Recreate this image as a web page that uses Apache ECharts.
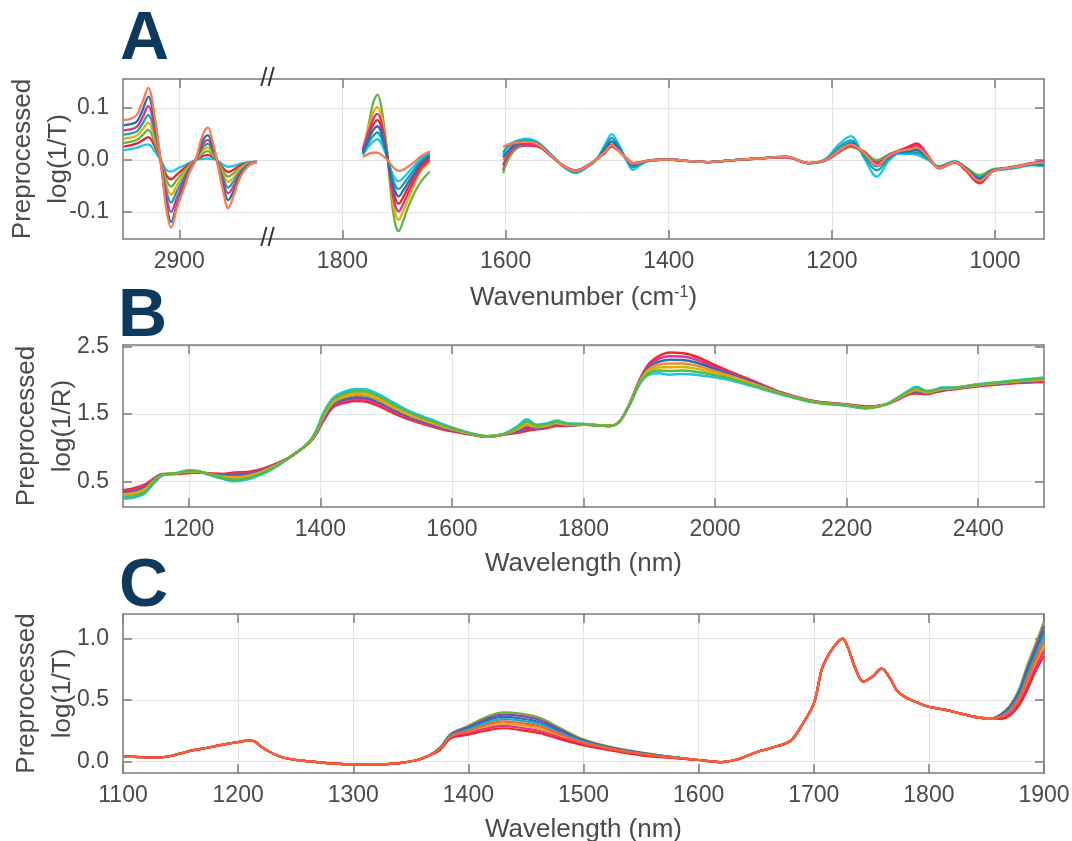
<!DOCTYPE html>
<html><head><meta charset="utf-8">
<script src="https://cdn.jsdelivr.net/npm/echarts@6/dist/echarts.min.js"></script>
<style>html,body{margin:0;padding:0;background:#fff}#c{width:1072px;height:841px}</style>
</head><body><div id="c"></div>
<script>
// ---------------- Panel A: MIR, wavenumber (cm-1), three measured windows ----------------
const aWnCH = [2968,2960,2952,2945,2938,2931,2923,2916,2910,2903,2895,2888,2880,2872,2865,2859,2854,2847,2840,2833,2825,2815,2805];
const aWnCO = [1775,1768,1762,1757,1752,1746,1740,1735,1731,1726,1720,1712,1704,1693];
const aWnFP = [1603,1597,1588,1575,1560,1545,1530,1514,1500,1488,1478,1470,1462,1452,1444,1435,1425,1400,1375,1350,1320,1290,1256,1228,1208,1192,1177,1160,1145,1130,1118,1106,1096,1082,1069,1049,1036,1019,1003,987,970,955,940];

const aCH_coral   = [0.077,0.079,0.087,0.112,0.139,0.093,0,-0.093,-0.130,-0.093,-0.058,-0.026,0,0.045,0.063,0.035,0,-0.054,-0.093,-0.067,-0.032,-0.011,-0.004];
const aCH_blue    = [0.067,0.069,0.074,0.096,0.122,0.083,0,-0.083,-0.119,-0.087,-0.051,-0.022,0,0.035,0.048,0.026,0,-0.045,-0.077,-0.058,-0.029,-0.010,-0.004];
const aCH_magenta = [0.057,0.059,0.064,0.082,0.104,0.070,0,-0.070,-0.100,-0.073,-0.043,-0.019,0,0.028,0.039,0.021,0,-0.038,-0.064,-0.049,-0.025,-0.009,-0.004];
const aCH_teal    = [0.049,0.051,0.055,0.070,0.087,0.059,0,-0.059,-0.082,-0.060,-0.036,-0.016,0,0.022,0.031,0.017,0,-0.031,-0.053,-0.040,-0.021,-0.008,-0.003];
const aCH_gold    = [0.041,0.043,0.047,0.059,0.072,0.048,0,-0.048,-0.067,-0.049,-0.029,-0.013,0,0.017,0.024,0.013,0,-0.025,-0.042,-0.033,-0.017,-0.007,-0.003];
const aCH_green   = [0.033,0.035,0.039,0.048,0.058,0.038,0,-0.038,-0.051,-0.038,-0.023,-0.011,0,0.012,0.017,0.009,0,-0.019,-0.032,-0.025,-0.014,-0.006,-0.003];
const aCH_red     = [0.026,0.028,0.032,0.038,0.044,0.029,0,-0.029,-0.037,-0.028,-0.017,-0.008,0,0.007,0.010,0.006,0,-0.014,-0.023,-0.018,-0.010,-0.005,-0.003];
const aCH_cyan    = [0.019,0.021,0.024,0.028,0.030,0.019,0,-0.019,-0.022,-0.017,-0.011,-0.006,0,0.002,0.003,0.002,0,-0.008,-0.013,-0.011,-0.007,-0.004,-0.003];

const aCO_coral   = [0.006,0.012,0.014,0.014,0.010,0.002,-0.010,-0.018,-0.021,-0.019,-0.013,-0.004,0.007,0.017];
const aCO_blue    = [0.014,0.040,0.058,0.065,0.051,0.014,-0.036,-0.062,-0.070,-0.060,-0.045,-0.025,-0.007,0.008];
const aCO_magenta = [0.020,0.054,0.080,0.089,0.071,0.020,-0.052,-0.089,-0.099,-0.086,-0.066,-0.040,-0.017,0.000];
const aCO_teal    = [0.012,0.033,0.047,0.053,0.041,0.011,-0.028,-0.050,-0.056,-0.048,-0.035,-0.018,-0.002,0.011];
const aCO_gold    = [0.022,0.062,0.092,0.102,0.082,0.024,-0.062,-0.104,-0.115,-0.100,-0.078,-0.048,-0.022,-0.004];
const aCO_green   = [0.012,0.067,0.112,0.126,0.099,0.029,-0.074,-0.125,-0.137,-0.119,-0.093,-0.064,-0.042,-0.022];
const aCO_red     = [0.017,0.047,0.069,0.077,0.061,0.017,-0.044,-0.075,-0.084,-0.073,-0.055,-0.032,-0.012,0.004];
const aCO_cyan    = [0.010,0.026,0.036,0.040,0.031,0.008,-0.021,-0.037,-0.041,-0.035,-0.025,-0.011,0.003,0.014];

const aFP_coral   = [0.025,0.030,0.033,0.035,0.030,0.010,-0.010,-0.021,-0.012,0.002, 0.016,0.028,0.019,0.003,-0.007,-0.005,-0.001,0.001,-0.002,-0.004, 0.000,0.003,0.006,-0.006,0.000,0.017,0.030,0.013,-0.010,0.008, 0.017,0.020,0.024,0.006,-0.015,-0.004,-0.017,-0.040,-0.021,-0.016, -0.012,-0.007,-0.005];
const aFP_blue    = [0.005,0.018,0.030,0.034,0.030,0.010,-0.010,-0.021,-0.012,0.002, 0.020,0.036,0.024,0.002,-0.010,-0.006,-0.001,0.001,-0.002,-0.004, 0.000,0.003,0.006,-0.006,0.000,0.018,0.033,0.012,-0.012,0.006, 0.016,0.017,0.020,0.004,-0.014,-0.004,-0.016,-0.036,-0.020,-0.016, -0.012,-0.008,-0.008];
const aFP_magenta = [-0.010,0.010,0.025,0.030,0.028,0.009,-0.010,-0.020,-0.011,0.002, 0.016,0.029,0.020,0.003,-0.007,-0.005,-0.001,0.001,-0.002,-0.004, 0.000,0.003,0.005,-0.006,0.000,0.016,0.028,0.014,-0.006,0.009, 0.018,0.023,0.028,0.007,-0.015,-0.004,-0.018,-0.041,-0.021,-0.016, -0.011,-0.006,-0.002];
const aFP_teal    = [0.015,0.026,0.034,0.038,0.032,0.011,-0.011,-0.023,-0.013,0.002, 0.026,0.042,0.028,0.001,-0.014,-0.008,-0.002,0.001,-0.002,-0.004, 0.000,0.003,0.006,-0.006,0.001,0.024,0.038,0.006,-0.020,0.003, 0.014,0.014,0.014,0.002,-0.013,-0.003,-0.015,-0.034,-0.020,-0.017, -0.013,-0.009,-0.010];
const aFP_gold    = [0.000,0.015,0.028,0.032,0.029,0.010,-0.010,-0.021,-0.012,0.002, 0.019,0.033,0.022,0.003,-0.009,-0.005,-0.001,0.001,-0.002,-0.004, 0.000,0.003,0.006,-0.006,0.000,0.017,0.030,0.013,-0.008,0.008, 0.017,0.019,0.022,0.005,-0.015,-0.004,-0.017,-0.038,-0.020,-0.016, -0.011,-0.007,-0.006];
const aFP_green   = [-0.025,0.000,0.020,0.030,0.028,0.010,-0.010,-0.022,-0.013,0.002, 0.018,0.031,0.021,0.003,-0.008,-0.005,-0.001,0.001,-0.002,-0.004, 0.000,0.003,0.006,-0.006,0.000,0.015,0.025,0.014,0.000,0.011, 0.017,0.017,0.018,0.005,-0.013,-0.003,-0.014,-0.029,-0.018,-0.015, -0.011,-0.007,-0.006];
const aFP_red     = [-0.020,0.005,0.022,0.028,0.026,0.008,-0.010,-0.020,-0.011,0.002, 0.014,0.026,0.018,0.004,-0.006,-0.004,-0.001,0.001,-0.002,-0.004, 0.000,0.003,0.005,-0.006,-0.001,0.014,0.026,0.016,-0.004,0.010, 0.018,0.026,0.032,0.008,-0.016,-0.005,-0.020,-0.045,-0.022,-0.016, -0.011,-0.006,-0.004];
const aFP_cyan    = [0.010,0.028,0.036,0.041,0.034,0.012,-0.012,-0.025,-0.014,0.002, 0.030,0.050,0.032,0.000,-0.019,-0.010,-0.002,0.001,-0.002,-0.004, 0.000,0.003,0.007,-0.007,0.002,0.029,0.046,0.002,-0.032,-0.001, 0.012,0.012,0.010,0.000,-0.012,-0.002,-0.014,-0.032,-0.020,-0.018, -0.014,-0.010,-0.012];

const aTickLabels = [2900,1800,1600,1400,1200,1000];
const aYTicks = [-0.1,0,0.1];

// ---------------- Panel B: NIR reflectance, wavelength (nm) ----------------
const bWl = [1100,1117,1133,1145,1160,1180,1200,1215,1230,1250,1270,1290,1310,1330,1350,1370,1385,1395,1405,1420,1440,1455,1470,1490,1516,1540,1567,1600,1630,1653,1678,1700,1714,1729,1745,1759,1775,1800,1820,1840,1855,1870,1886,1900,1915,1931,1950,1971,2000,2022,2060,2100,2150,2200,2230,2260,2280,2295,2306,2322,2335,2345,2360,2400,2450,2500];
const bCyan    = [.245,.260,.320,.450,.590,.620,.665,.655,.600,.540,.500,.530,.600,.700,.830,.970,1.110,1.280,1.520,1.740,1.840,1.870,1.860,1.780,1.640,1.520,1.420,1.300,1.210,1.170,1.200,1.320,1.420,1.340,1.360,1.400,1.360,1.350,1.335,1.320,1.390,1.630,1.950,2.080,2.100,2.080,2.090,2.080,2.040,2.000,1.900,1.790,1.670,1.620,1.580,1.640,1.760,1.850,1.900,1.840,1.860,1.890,1.890,1.940,1.990,2.040];
const bGreen   = [.266,.283,.342,.463,.593,.618,.658,.651,.603,.552,.522,.548,.613,.708,.832,.970,1.107,1.270,1.500,1.717,1.812,1.840,1.830,1.752,1.615,1.500,1.403,1.290,1.207,1.168,1.198,1.303,1.392,1.328,1.348,1.387,1.353,1.348,1.334,1.320,1.390,1.633,1.962,2.108,2.143,2.135,2.142,2.125,2.070,2.022,1.913,1.795,1.673,1.623,1.585,1.640,1.753,1.840,1.883,1.832,1.853,1.882,1.885,1.935,1.983,2.028];
const bGold    = [.287,.307,.363,.477,.597,.617,.652,.647,.607,.563,.543,.567,.627,.717,.833,.970,1.103,1.260,1.480,1.693,1.783,1.810,1.800,1.723,1.590,1.480,1.387,1.280,1.203,1.167,1.197,1.287,1.363,1.317,1.337,1.373,1.347,1.347,1.333,1.320,1.390,1.637,1.973,2.137,2.187,2.190,2.193,2.170,2.100,2.043,1.927,1.800,1.677,1.627,1.590,1.640,1.747,1.830,1.867,1.823,1.847,1.873,1.880,1.930,1.977,2.017];
const bOrange  = [.308,.330,.385,.490,.600,.615,.645,.643,.610,.575,.565,.585,.640,.725,.835,.970,1.100,1.250,1.460,1.670,1.755,1.780,1.770,1.695,1.565,1.460,1.370,1.270,1.200,1.165,1.195,1.270,1.335,1.305,1.325,1.360,1.340,1.345,1.333,1.320,1.390,1.640,1.985,2.165,2.230,2.245,2.245,2.215,2.130,2.065,1.940,1.805,1.680,1.630,1.595,1.640,1.740,1.820,1.850,1.815,1.840,1.865,1.875,1.925,1.970,2.005];
const bBlue    = [.328,.353,.407,.503,.603,.613,.638,.638,.613,.587,.587,.603,.653,.733,.837,.970,1.097,1.240,1.440,1.647,1.727,1.750,1.740,1.667,1.540,1.440,1.353,1.260,1.197,1.163,1.193,1.253,1.307,1.293,1.313,1.347,1.333,1.343,1.332,1.320,1.390,1.643,1.997,2.193,2.273,2.300,2.297,2.260,2.160,2.087,1.953,1.810,1.683,1.633,1.600,1.640,1.733,1.810,1.833,1.807,1.833,1.857,1.870,1.920,1.963,1.993];
const bMagenta = [.349,.377,.428,.517,.607,.612,.632,.634,.617,.598,.608,.622,.667,.742,.838,.970,1.093,1.230,1.420,1.623,1.698,1.720,1.710,1.638,1.515,1.420,1.337,1.250,1.193,1.162,1.192,1.237,1.278,1.282,1.302,1.333,1.327,1.342,1.331,1.320,1.390,1.647,2.008,2.222,2.317,2.355,2.348,2.305,2.190,2.108,1.967,1.815,1.687,1.637,1.605,1.640,1.727,1.800,1.817,1.798,1.827,1.848,1.865,1.915,1.957,1.982];
const bRed     = [.370,.400,.450,.530,.610,.610,.625,.630,.620,.610,.630,.640,.680,.750,.840,.970,1.090,1.220,1.400,1.600,1.670,1.690,1.680,1.610,1.490,1.400,1.320,1.240,1.190,1.160,1.190,1.220,1.250,1.270,1.290,1.320,1.320,1.340,1.330,1.320,1.390,1.650,2.020,2.250,2.360,2.410,2.400,2.350,2.220,2.130,1.980,1.820,1.690,1.640,1.610,1.640,1.720,1.790,1.800,1.790,1.820,1.840,1.860,1.910,1.950,1.970];
const bXTicks = [1200,1400,1600,1800,2000,2200,2400];
const bYTicks = [0.5,1.5,2.5];

// ---------------- Panel C: NIR transmittance, wavelength (nm) ----------------
const cWl = [1100,1115,1130,1140,1150,1160,1170,1180,1190,1200,1210,1215,1220,1227,1235,1245,1260,1280,1300,1320,1340,1355,1365,1375,1385,1400,1415,1430,1445,1462,1480,1500,1525,1550,1575,1600,1620,1635,1650,1665,1680,1690,1700,1707,1713,1718,1725,1730,1736,1743,1751,1759,1766,1772,1780,1790,1800,1815,1830,1845,1855,1863,1870,1878,1885,1892,1900];
// values shared by all spectra (they coincide here), 1100-1365 nm and 1600-1855 nm
const cShared1 = [0.040,0.035,0.032,0.042,0.065,0.090,0.105,0.125,0.142,0.158,0.172,0.160,0.120,0.080,0.045,0.020,0.002,-0.015,-0.024,-0.024,-0.013,0.010,0.045];
const cShared2 = [0.012,-0.005,0.020,0.075,0.115,0.170,0.300,0.470,0.750,0.870,0.940,1.000,0.920,0.760,0.650,0.690,0.755,0.680,0.580,0.520,0.480,0.445,0.420,0.385,0.355,0.352];
// per-spectrum values, 1375-1575 nm
const cMidGreen   = [.110,.226,.290,.360,.400,.390,.355,.270,.180,.115,.075,.040];
const cMidPurple  = [.107,.221,.280,.344,.381,.371,.337,.257,.173,.111,.071,.039];
const cMidBlue    = [.104,.216,.269,.329,.363,.351,.319,.244,.166,.107,.068,.037];
const cMidTeal    = [.101,.211,.259,.313,.344,.332,.301,.231,.159,.103,.064,.036];
const cMidOrange  = [.099,.205,.248,.297,.326,.313,.284,.219,.151,.100,.061,.034];
const cMidGold    = [.096,.200,.238,.281,.307,.294,.266,.206,.144,.096,.057,.033];
const cMidMagenta = [.093,.195,.227,.266,.289,.274,.248,.193,.137,.092,.054,.031];
const cMidRed     = [.090,.190,.217,.250,.270,.255,.230,.180,.130,.088,.050,.030];
// per-spectrum values, 1863-1900 nm
const cEndGreen   = [.390,.450,.580,.770,.940,1.140];
const cEndPurple  = [.384,.439,.561,.741,.909,1.100];
const cEndBlue    = [.377,.427,.543,.713,.877,1.060];
const cEndTeal    = [.371,.416,.524,.684,.846,1.020];
const cEndOrange  = [.364,.404,.506,.656,.814,.980];
const cEndGold    = [.358,.393,.487,.627,.783,.940];
const cEndMagenta = [.351,.381,.469,.599,.751,.900];
const cEndRed     = [.345,.370,.450,.570,.720,.860];
const cXTicks = [1100,1200,1300,1400,1500,1600,1700,1800,1900];
const cYTicks = [0,0.5,1.0];

// ---------------- styling ----------------
const FONT = '"Liberation Sans", Arial, Helvetica, sans-serif';
const BOX = '#7b7b7b', LBL = '#4a4a4a', GRIDC = '#e4e4e4', NAVY = '#0d3a5c';
const BREAK_SHIFT = 900;            // axis break: CH window drawn 900 cm-1 closer
const A_X = [940, 2069], A_Y = [-0.152, 0.156];
const B_X = [1100, 2500], B_Y = [0.12, 2.52];
const C_X = [1100, 1900], C_Y = [-0.094, 1.2];
const TICK_FS = 23;

function check(name, a, b){ if(a.length!==b.length) throw new Error(name+' length '+b.length+' vs '+a.length); }

const aLines = [
  ['cyan','#17c9f2',aCH_cyan,aCO_cyan,aFP_cyan],
  ['red','#e8262b',aCH_red,aCO_red,aFP_red],
  ['green','#6ab04c',aCH_green,aCO_green,aFP_green],
  ['gold','#e6b000',aCH_gold,aCO_gold,aFP_gold],
  ['teal','#1aa3a3',aCH_teal,aCO_teal,aFP_teal],
  ['magenta','#d63384',aCH_magenta,aCO_magenta,aFP_magenta],
  ['blue','#1f72b8',aCH_blue,aCO_blue,aFP_blue],
  ['coral','#ff7a52',aCH_coral,aCO_coral,aFP_coral]
];
const bLines = [
  ['cyan','#12c6f0',bCyan],['red','#f0282d',bRed],['magenta','#e8318a',bMagenta],
  ['blue','#2a6fbd',bBlue],['orange','#f28e2b',bOrange],['gold','#d6b20a',bGold],['green','#58b947',bGreen]
];
const cLines = [
  ['green','#77ac30',cMidGreen,cEndGreen],['purple','#8e44ad',cMidPurple,cEndPurple],
  ['blue','#2a6fbd',cMidBlue,cEndBlue],['teal','#19b0c0',cMidTeal,cEndTeal],
  ['gold','#e8a817',cMidGold,cEndGold],['magenta','#e8318a',cMidMagenta,cEndMagenta],
  ['red','#f0282d',cMidRed,cEndRed],['orange','#ff5e30',cMidOrange,cEndOrange]
];

const series = [];
const lineBase = {type:'line', showSymbol:false, symbol:'none', smooth:0.35, connectNulls:false, silent:true, animation:false, clip:true};
aLines.forEach(([n,col,ch,co,fp])=>{
  check('aCH_'+n, aWnCH, ch); check('aCO_'+n, aWnCO, co); check('aFP_'+n, aWnFP, fp);
  const d = ch.map((v,i)=>[aWnCH[i]-BREAK_SHIFT, v]).concat([[null,null]],
            co.map((v,i)=>[aWnCO[i], v]), [[null,null]],
            fp.map((v,i)=>[aWnFP[i], v]));
  series.push({...lineBase, name:'A '+n, xAxisIndex:0, yAxisIndex:0, data:d, lineStyle:{color:col, width:2.3}, itemStyle:{color:col}});
});
bLines.forEach(([n,col,arr])=>{
  check('b'+n, bWl, arr);
  series.push({...lineBase, name:'B '+n, xAxisIndex:2, yAxisIndex:2, data:arr.map((v,i)=>[bWl[i],v]), lineStyle:{color:col, width:2.5}, itemStyle:{color:col}});
});
cLines.forEach(([n,col,mid,end])=>{
  const arr = cShared1.concat(mid, cShared2, end);
  check('c'+n, cWl, arr);
  series.push({...lineBase, name:'C '+n, xAxisIndex:4, yAxisIndex:4, data:arr.map((v,i)=>[cWl[i],v]), lineStyle:{color:col, width:2.2}, itemStyle:{color:col}});
});

function xPair(gi, range, ticks, fmt, name, gap, inverse, rich){
  const common = {gridIndex:gi, type:'value', min:range[0], max:range[1], inverse:!!inverse, nameMoveOverlap:false,
    axisLine:{show:true, onZero:false, lineStyle:{color:BOX, width:1.5}},
    axisTick:{show:true, inside:true, length:9, customValues:ticks, lineStyle:{color:BOX, width:1.5}}};
  return [
    {...common, position:'bottom', name:name, nameLocation:'middle', nameGap:gap,
     nameTextStyle:{fontSize:26, color:LBL, fontFamily:FONT, rich:rich||{}},
     axisLabel:{show:true, customValues:ticks, formatter:fmt, color:LBL, fontSize:TICK_FS, fontFamily:FONT, margin:11},
     splitLine:{show:true, lineStyle:{color:GRIDC, width:1}}},
    {...common, position:'top', axisLabel:{show:false}, splitLine:{show:false}}
  ];
}
function yPair(gi, range, ticks, name, gap){
  const common = {gridIndex:gi, type:'value', min:range[0], max:range[1], nameMoveOverlap:false,
    axisLine:{show:true, onZero:false, lineStyle:{color:BOX, width:1.5}},
    axisTick:{show:true, inside:true, length:9, customValues:ticks, lineStyle:{color:BOX, width:1.5}}};
  return [
    {...common, position:'left', name:name, nameLocation:'middle', nameGap:gap, nameRotate:90,
     nameTextStyle:{fontSize:26, lineHeight:36, color:LBL, fontFamily:FONT},
     axisLabel:{show:true, customValues:ticks, formatter:v=>v.toFixed(1), color:LBL, fontSize:TICK_FS, fontFamily:FONT, margin:14},
     splitLine:{show:true, lineStyle:{color:GRIDC, width:1}}},
    {...common, position:'right', axisLabel:{show:false}, splitLine:{show:false}}
  ];
}

const aXTicksV = aTickLabels.map(t => t > 2000 ? t - BREAK_SHIFT : t);
const gridBase = {containLabel:false, outerBoundsMode:'none'};
const option = {
  animation:false, backgroundColor:'#ffffff',
  textStyle:{fontFamily:FONT},
  grid:[
    {...gridBase, left:123, top:79, width:921, height:160},
    {...gridBase, left:123, top:345, width:921, height:162},
    {...gridBase, left:123, top:614, width:921, height:159}
  ],
  xAxis:[].concat(
    xPair(0, A_X, aXTicksV, v => String(v > 1900 ? v + BREAK_SHIFT : v), 'Wavenumber (cm{sup|-1})', 46, true,
          {sup:{fontSize:16, verticalAlign:'top', color:LBL, fontFamily:FONT}}),
    xPair(1, B_X, bXTicks, v => String(v), 'Wavelength (nm)', 44, false),
    xPair(2, C_X, cXTicks, v => String(v), 'Wavelength (nm)', 44, false)
  ),
  yAxis:[].concat(
    yPair(0, A_Y, aYTicks, 'Preprocessed\nlog(1/T)', 46),
    yPair(1, B_Y, bYTicks, 'Preprocessed\nlog(1/R)', 42),
    yPair(2, C_Y, cYTicks, 'Preprocessed\nlog(1/T)', 42)
  ),
  series:series
};

const chart = echarts.init(document.getElementById('c'), null, {renderer:'canvas'});
chart.setOption(option);

// decorations: axis-break marks and panel letters
const brkV = 1892;
const pTop = chart.convertToPixel({gridIndex:0}, [brkV, A_Y[1]]);
const pBot = chart.convertToPixel({gridIndex:0}, [brkV, A_Y[0]]);
const letter = (t, x, y) => ({type:'text', z:100, style:{text:t, x:x, y:y, font:'bold 68px '+FONT, fill:NAVY, verticalAlign:'middle', align:'left'}});
const brk = (p) => ({type:'text', z:100, style:{text:'//', x:p[0], y:p[1], font:'26px '+FONT, fill:'#333', align:'center', verticalAlign:'middle'}});
chart.setOption({graphic:[letter('A',120,40), letter('B',118,317), letter('C',119,587), brk(pTop), brk(pBot)]});
</script></body></html>
